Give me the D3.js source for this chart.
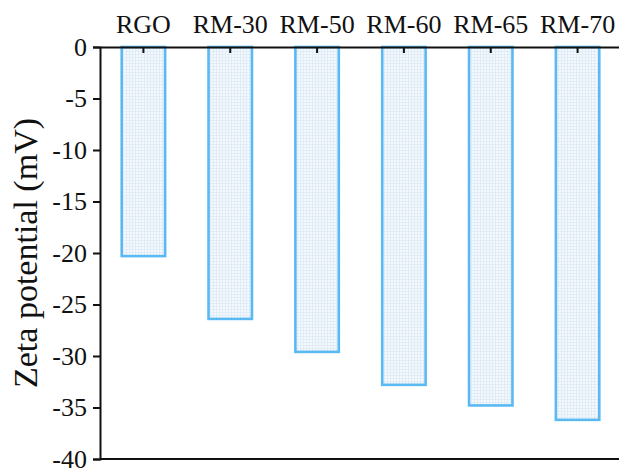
<!DOCTYPE html>
<html>
<head>
<meta charset="utf-8">
<script src="https://cdn.jsdelivr.net/npm/d3@7"></script>
<style>
  body { margin: 0; background: #fff; }
  text { font-family: "Liberation Serif", "Times New Roman", serif; }
</style>
</head>
<body>
<div id="chart"></div>
<script>
// values
var samples = ['RGO', 'RM-30', 'RM-50', 'RM-60', 'RM-65', 'RM-70'];
var zeta = [-20.3, -26.4, -29.6, -32.8, -34.8, -36.2];
var yTicks = [0, -5, -10, -15, -20, -25, -30, -35, -40];

const width = 619;
const height = 468;
const margin = { top: 47, bottom: 9, left: 100, right: -2 };

const svg = d3.select('#chart')
  .append('svg')
  .attr('width', width)
  .attr('height', height);

// light grid fill for the bars
const pat = svg.append('defs').append('pattern')
  .attr('id', 'grid')
  .attr('width', 3).attr('height', 3)
  .attr('patternUnits', 'userSpaceOnUse');
pat.append('rect').attr('width', 3).attr('height', 3).attr('fill', '#f5f9fd');
pat.append('path').attr('d', 'M0,0.5H3M0.5,0V3')
  .attr('stroke', '#e0ecf6').attr('stroke-width', 1);

const x = d3.scaleBand()
  .domain(samples)
  .range([margin.left, width - margin.right])
  .paddingInner(0.5)
  .paddingOuter(0.25);

const y = d3.scaleLinear()
  .domain([0, -40])
  .range([margin.top, height - margin.bottom]);

const data = samples.map((s, i) => ({ name: s, value: zeta[i] }));

svg.append('g')
  .selectAll('rect')
  .data(data)
  .join('rect')
    .attr('x', d => x(d.name))
    .attr('y', y(0))
    .attr('width', x.bandwidth())
    .attr('height', d => y(d.value) - y(0))
    .attr('fill', 'url(#grid)')
    .attr('stroke', '#5ab9f2')
    .attr('stroke-width', 2.6);

// left axis
const yAxis = svg.append('g')
  .attr('transform', `translate(${margin.left},0)`)
  .call(d3.axisLeft(y).tickValues(yTicks).tickSize(7).tickPadding(6).tickFormat(d3.format('d')));
yAxis.select('.domain').attr('stroke', '#111').attr('stroke-width', 2);
yAxis.selectAll('.tick line').attr('stroke', '#111').attr('stroke-width', 2);
yAxis.selectAll('.tick text')
  .attr('font-size', 26)
  .attr('font-family', '"Liberation Serif", serif')
  .attr('fill', '#111')
  .text(d => d === 0 ? '0' : '-' + Math.abs(d));

// top axis with the sample names
const xAxis = svg.append('g')
  .attr('transform', `translate(0,${margin.top})`)
  .call(d3.axisTop(x).tickSizeOuter(0).tickSizeInner(-6).tickPadding(14));
xAxis.select('.domain').attr('stroke', '#111').attr('stroke-width', 2);
xAxis.selectAll('.tick line').attr('stroke', '#111').attr('stroke-width', 2);
xAxis.selectAll('.tick text')
  .attr('font-size', 26)
  .attr('font-family', '"Liberation Serif", serif')
  .attr('fill', '#111');

// bottom frame line
svg.append('line')
  .attr('x1', margin.left).attr('x2', width)
  .attr('y1', y(-40)).attr('y2', y(-40))
  .attr('stroke', '#111').attr('stroke-width', 2);

svg.append('text')
  .attr('transform', `translate(37,${(y(0) + y(-40)) / 2}) rotate(-90)`)
  .attr('text-anchor', 'middle')
  .attr('font-size', 34)
  .attr('fill', '#111')
  .text('Zeta potential (mV)');
</script>
</body>
</html>
